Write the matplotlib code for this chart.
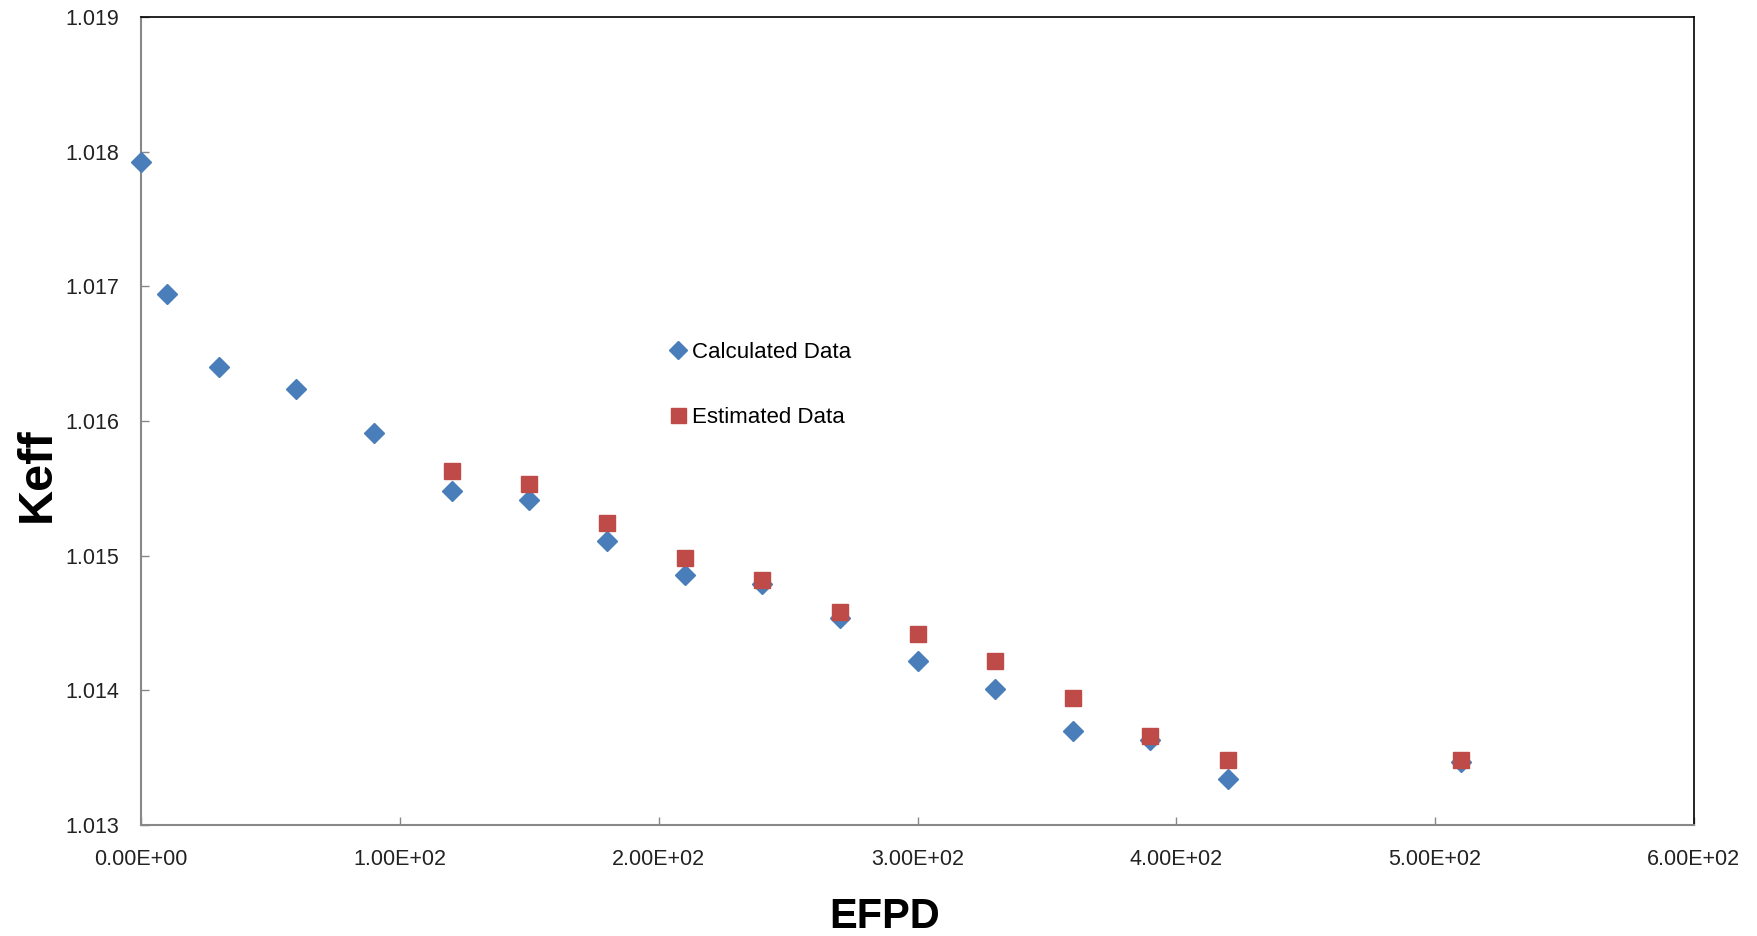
import matplotlib.pyplot as plt
from matplotlib.ticker import FuncFormatter, MultipleLocator

# EFPD vs Keff
calc_efpd = [0, 10, 30, 60, 90, 120, 150, 180, 210, 240, 270, 300, 330, 360, 390, 420, 510]
calc_keff = [1.01792, 1.01694, 1.01640, 1.01624, 1.01591, 1.01548, 1.01541, 1.01511,
             1.01486, 1.01479, 1.01454, 1.01422, 1.01401, 1.01370, 1.01363, 1.01334, 1.01347]

est_efpd = [120, 150, 180, 210, 240, 270, 300, 330, 360, 390, 420, 510]
est_keff = [1.01563, 1.01553, 1.01524, 1.01498, 1.01482, 1.01458, 1.01442, 1.01422,
            1.01394, 1.01366, 1.01348, 1.01348]

plt.rcParams['font.family'] = ['Liberation Sans', 'DejaVu Sans']

fig = plt.figure(figsize=(17.57, 9.36), dpi=100)
ax = fig.add_axes([0.0803, 0.1186, 0.8838, 0.8632])

ax.plot(calc_efpd, calc_keff, linestyle='none', marker='D', markersize=10,
        color='#4A7EBB', label='Calculated Data', clip_on=False, zorder=3)
ax.plot(est_efpd, est_keff, linestyle='none', marker='s', markersize=12,
        color='#BE4B48', label='Estimated Data', clip_on=False, zorder=4)

ax.set_xlim(0, 600)
ax.set_ylim(1.013, 1.019)
ax.xaxis.set_major_locator(MultipleLocator(100))
ax.yaxis.set_major_locator(MultipleLocator(0.001))
ax.xaxis.set_major_formatter(FuncFormatter(lambda v, p: "{:.2E}".format(v)))
ax.yaxis.set_major_formatter(FuncFormatter(lambda v, p: "{:.3f}".format(v)))

ax.tick_params(direction='in', length=6, width=1, color='#888888',
               labelsize=15.5, labelcolor='#222222')
ax.tick_params(axis='x', pad=17)
ax.tick_params(axis='y', pad=16)

for s in ['left', 'bottom']:
    ax.spines[s].set_color('#888888')
    ax.spines[s].set_linewidth(1.5)
for s in ['top', 'right']:
    ax.spines[s].set_color('#000000')
    ax.spines[s].set_linewidth(1.2)

# axis titles placed by hand, they sit off-centre in the original
fig.text(885 / 1757, 1 - 917 / 936, 'EFPD', fontsize=30, fontweight='bold',
         ha='center', va='center')
fig.text(37 / 1757, 1 - 475 / 936, 'Keff', fontsize=35, fontweight='bold',
         ha='center', va='center', rotation=90)

ax.legend(loc='upper left', bbox_to_anchor=(0.325, 0.623), frameon=False,
          fontsize=16, labelspacing=2.0, handletextpad=0.1, handlelength=1.1,
          markerscale=0.9)

fig.savefig('out.png', dpi=100)
